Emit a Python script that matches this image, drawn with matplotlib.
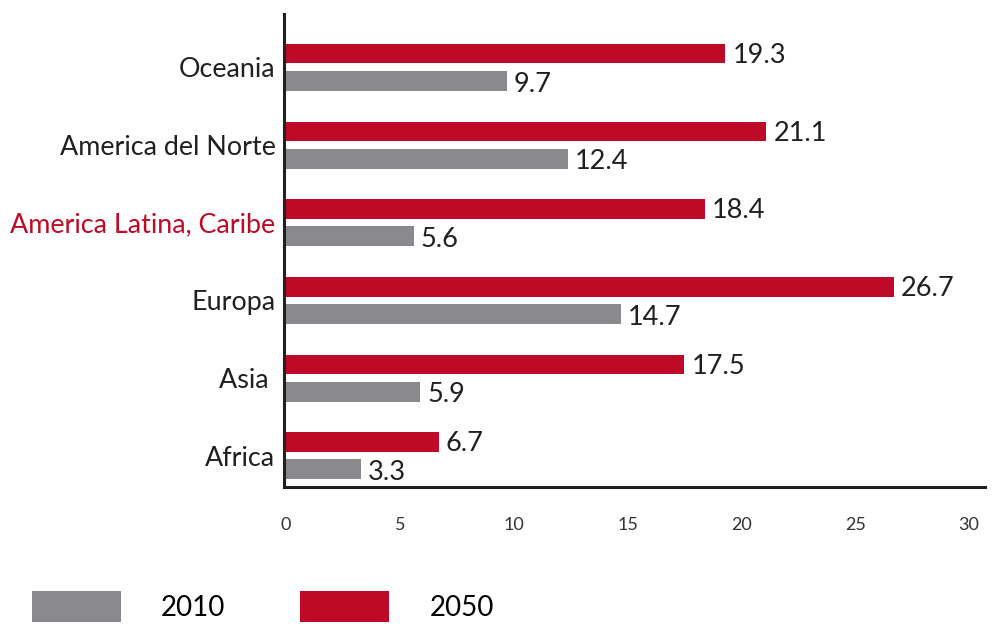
import matplotlib
matplotlib.use("Agg")
from matplotlib import pyplot as plt
import numpy as np

regions = ["Africa", "Asia ", "Europa", "America Latina, Caribe", "America del Norte", "Oceania"]
v2010 = [3.3, 5.9, 14.7, 5.6, 12.4, 9.7]
v2050 = [6.7, 17.5, 26.7, 18.4, 21.1, 19.3]
xticks = [0, 5, 10, 15, 20, 25, 30]

red = "#BE0A26"
gray = "#8A898E"

plt.rcParams['font.family'] = ['Lato', 'DejaVu Sans']

fig = plt.figure(figsize=(9.92, 6.25), dpi=100)
ax = fig.add_axes([0.286, 0.221, 0.707, 0.757])

y = np.arange(len(regions))
off = 0.175
b50 = ax.barh(y + off, v2050, height=0.25, color=red, label="2050")
b10 = ax.barh(y - off, v2010, height=0.26, color=gray, label="2010")

for yy, v in zip(y, v2050):
    ax.text(v + 0.3, yy + off - 0.02, "{:.1f}".format(v), va="center", ha="left", fontsize=19.5, color="#231f20")
for yy, v in zip(y, v2010):
    ax.text(v + 0.3, yy - off - 0.04, "{:.1f}".format(v), va="center", ha="left", fontsize=19.5, color="#231f20")

ax.set_xlim(-0.1, 30.7)
ax.set_ylim(-0.4, 5.69)
ax.set_yticks(y)
ax.set_yticklabels(regions, fontsize=19.4, color="#231f20")
ax.get_yticklabels()[3].set_color(red)
ax.set_xticks(xticks)
ax.set_xticklabels([str(t) for t in xticks], fontsize=13, color="#333333")
ax.tick_params(axis="both", length=0)
ax.tick_params(axis="x", pad=22)
ax.tick_params(axis="y", pad=6)

for s in ["top", "right"]:
    ax.spines[s].set_visible(False)
ax.spines["left"].set_linewidth(2.2)
ax.spines["bottom"].set_linewidth(2.2)
ax.spines["left"].set_color("#231f20")
ax.spines["bottom"].set_color("#231f20")

fig.legend(handles=[b10, b50], labels=["2010", "2050"], loc="center left",
           bbox_to_anchor=(0.032, 0.03), bbox_transform=fig.transFigure,
           ncol=2, frameon=False, fontsize=20, borderpad=0, borderaxespad=0,
           handlelength=3.2, handleheight=1.35, handletextpad=1.45, columnspacing=2.7)

fig.savefig("out.png", dpi=100)
